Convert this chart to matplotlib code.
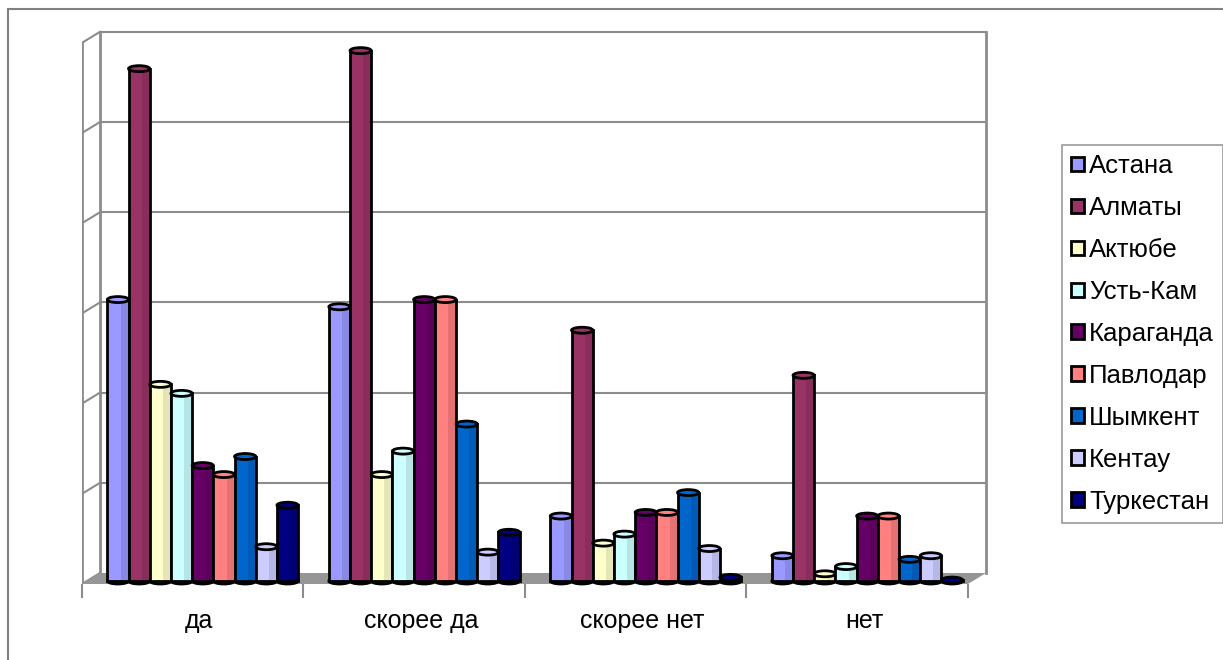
import numpy as np
import matplotlib
matplotlib.use('Agg')
import matplotlib.pyplot as plt
from matplotlib.patches import Polygon, Ellipse, Rectangle

plt.rcParams['font.family'] = ['Liberation Sans', 'DejaVu Sans']

categories = ['да', 'скорее да', 'скорее нет', 'нет']
cities = ['Астана', 'Алматы', 'Актюбе', 'Усть-Кам', 'Караганда',
          'Павлодар', 'Шымкент', 'Кентау', 'Туркестан']
colors = ['#9999FF', '#993366', '#FFFFCC', '#CCFFFF', '#660066',
          '#FF8080', '#0066CC', '#CCCCFF', '#000080']

# values per city, order follows categories
astana = [15.6, 15.2, 3.6, 1.4]
almaty = [28.4, 29.4, 13.9, 11.4]
aktobe = [10.9, 5.9, 2.1, 0.4]
ust_kam = [10.4, 7.2, 2.6, 0.8]
karaganda = [6.4, 15.6, 3.8, 3.6]
pavlodar = [5.9, 15.6, 3.8, 3.6]
shymkent = [6.9, 8.7, 4.9, 1.2]
kentau = [1.9, 1.6, 1.8, 1.4]
turkestan = [4.2, 2.7, 0.2, 0.05]
series = [astana, almaty, aktobe, ust_kam, karaganda,
          pavlodar, shymkent, kentau, turkestan]

W, H = 1223, 660
PX_X = 221.5   # px per category slot
PX_Y = 18.04   # px per value unit
left_px, right_px, top_px, bot_px, zero_px = 82, 988, 20, 584, 581

fig = plt.figure(figsize=(W / 100, H / 100), dpi=100)
ax = fig.add_axes([left_px / W, (H - bot_px) / H,
                   (right_px - left_px) / W, (bot_px - top_px) / H])
ax.set_xlim(0, (right_px - left_px) / PX_X)
ax.set_ylim(-(bot_px - zero_px) / PX_Y, (zero_px - top_px) / PX_Y)
for s in ax.spines.values():
    s.set_visible(False)
ax.set_yticks([])

# 3d box geometry (depth offset)
dx = 18 / PX_X
dy = 11 / PX_Y
front_y = -(bot_px - zero_px) / PX_Y
back_y = front_y + dy
n_cat = len(categories)
grid_step = 5
n_grid = 6
wall_col = '#8c8c8c'

# floor
ax.add_patch(Polygon([(0, front_y), (n_cat, front_y), (n_cat + dx, back_y), (dx, back_y)],
                     closed=True, facecolor='#969696', edgecolor='none', zorder=1,
                     clip_on=False))
# back wall gridlines + left wall diagonals
for k in range(1, n_grid + 1):
    yk = back_y + k * grid_step
    ax.plot([dx, n_cat + dx], [yk, yk], color=wall_col, lw=1.5, zorder=0.5)
    ax.plot([0, dx], [yk - dy, yk], color=wall_col, lw=1.5, zorder=0.5)
top_y = back_y + n_grid * grid_step
ax.plot([dx, dx], [back_y, top_y], color=wall_col, lw=2, zorder=0.5)
ax.plot([0, 0], [front_y, top_y - dy], color=wall_col, lw=2, zorder=0.5)
ax.plot([n_cat + dx, n_cat + dx], [back_y, top_y], color=wall_col, lw=2, zorder=0.5)
ax.plot([0, dx], [front_y, back_y], color=wall_col, lw=1.5, zorder=0.5)

# bars (cylinder look: body + shading + caps)
bw = 21.2 / PX_X
shift = 10 / PX_X
cap_h = 6 / PX_Y
x_cat = np.arange(n_cat)
handles = []
for j, (vals, col, name) in enumerate(zip(series, colors, cities)):
    xs = x_cat + 0.5 + shift + (j - 4) * bw
    b = ax.bar(xs, vals, width=bw, color=col, edgecolor='black', linewidth=2,
               zorder=3 + j * 0.01, label=name)
    handles.append(b)
    ax.bar(xs + bw * 0.3, vals, width=bw * 0.35, color='black', alpha=0.10,
           linewidth=0, zorder=3 + j * 0.01 + 0.001)
    for x, v in zip(xs, vals):
        ax.add_patch(Ellipse((x, 0), bw, cap_h, facecolor=col, edgecolor='black',
                             lw=2, zorder=2.9, clip_on=False))
        ax.add_patch(Ellipse((x, v), bw, cap_h, facecolor=col, edgecolor='black',
                             lw=2, zorder=3 + j * 0.01 + 0.002))

# category axis
ax.set_xticks(x_cat + 0.53)
ax.set_xticklabels(categories, fontsize=18)
ax.tick_params(axis='x', which='major', length=0, pad=18)
ax.set_xticks(np.arange(n_cat + 1), minor=True)
ax.tick_params(axis='x', which='minor', length=10, width=1.5, color=wall_col)

leg = fig.legend(handles=handles, loc='upper left',
                 bbox_to_anchor=(1062 / W, 1 - 145 / H), fontsize=18.5,
                 frameon=True, fancybox=False, edgecolor='#808080',
                 handlelength=0.5, handleheight=0.5, handletextpad=0.2,
                 labelspacing=0.7, borderpad=0.35, borderaxespad=0)
leg.get_frame().set_linewidth(1.2)

# outer chart frame
fig.patches.append(Rectangle((8 / W, -0.05), 1.1, 1 - 9 / H + 0.05,
                             transform=fig.transFigure, fill=False,
                             edgecolor='#808080', lw=1.5))

fig.savefig('out.png', dpi=100)
